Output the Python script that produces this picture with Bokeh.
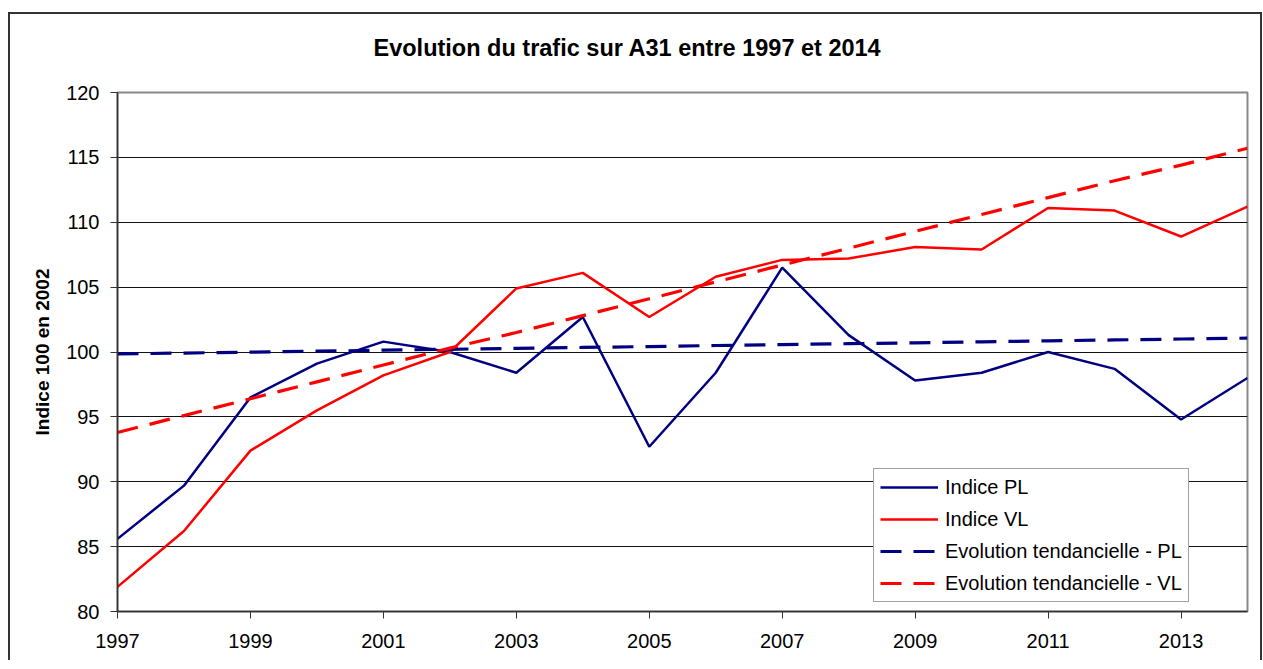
from bokeh.plotting import figure
from bokeh.models import FixedTicker, Legend, LegendItem, ColumnDataSource
from bokeh.embed import file_html
from bokeh.resources import INLINE

years = list(range(1997, 2015))
indice_pl = [85.6, 89.7, 96.5, 99.1, 100.8, 100.0, 98.4, 102.7, 92.7, 98.4,
             106.5, 101.3, 97.8, 98.4, 100.0, 98.7, 94.8, 98.0]
indice_vl = [81.9, 86.2, 92.4, 95.5, 98.2, 100.0, 104.9, 106.1, 102.7, 105.8,
             107.1, 107.2, 108.1, 107.9, 111.1, 110.9, 108.9, 111.2]
tend_pl = [99.85, 99.92, 99.99, 100.06, 100.14, 100.21, 100.28, 100.35, 100.42,
           100.50, 100.57, 100.64, 100.71, 100.78, 100.86, 100.93, 101.00, 101.07]
tend_vl = [93.8, 95.1, 96.4, 97.7, 99.0, 100.3, 101.5, 102.8, 104.1, 105.4,
           106.7, 108.0, 109.3, 110.6, 111.9, 113.2, 114.4, 115.7]
x_ticks = [1997, 1999, 2001, 2003, 2005, 2007, 2009, 2011, 2013]
y_ticks = [80, 85, 90, 95, 100, 105, 110, 115, 120]

title_text = "Evolution du trafic sur A31 entre 1997 et 2014"
y_label = "Indice 100 en 2002"
names = ["Indice PL", "Indice VL", "Evolution tendancielle - PL", "Evolution tendancielle - VL"]

FONT = "Liberation Sans"
NAVY = "#000080"
RED = "#FF0000"

src = ColumnDataSource(dict(x=years, pl=indice_pl, vl=indice_vl, tpl=tend_pl, tvl=tend_vl))

p = figure(width=1254, height=660, x_range=(1997, 2014), y_range=(80, 120),
           output_backend="svg", toolbar_location=None,
           min_border_left=109, min_border_right=15, min_border_top=92, min_border_bottom=49)
# outer chart frame (top, left, right) drawn behind a transparent border area
p.styles = {
    "margin-left": "8px",
    "background": ("linear-gradient(#333,#333) 0px 12px / 100% 2px no-repeat, "
                   "linear-gradient(#333,#333) 0px 12px / 2px 100% no-repeat, "
                   "linear-gradient(#333,#333) 100% 12px / 2px 100% no-repeat"),
}
p.border_fill_alpha = 0
p.background_fill_color = "white"

p.title.text = title_text
p.title.text_font = FONT
p.title.text_font_style = "bold"
p.title.text_font_size = "23.5px"
p.title.text_color = "black"
p.title.align = "left"
p.title.offset = 256
p.title.vertical_align = "top"
p.title.standoff = 60

p.outline_line_color = "#888888"
p.outline_line_width = 2
p.xgrid.visible = False
p.ygrid.grid_line_color = "#111111"
p.ygrid.grid_line_width = 1
p.ygrid.ticker = FixedTicker(ticks=y_ticks)

p.xaxis.ticker = FixedTicker(ticks=x_ticks)
p.yaxis.ticker = FixedTicker(ticks=y_ticks)
for ax in (p.xaxis[0], p.yaxis[0]):
    ax.major_label_text_font = FONT
    ax.major_label_text_font_size = "20px"
    ax.major_label_text_color = "black"
    ax.minor_tick_line_color = None
    ax.major_tick_in = 0
    ax.major_tick_out = 7
    ax.major_tick_line_color = "#333333"
    ax.axis_line_color = "#333333"
    ax.axis_line_width = 1.5
p.yaxis.major_label_standoff = 11
p.xaxis.major_label_standoff = 15
p.yaxis.axis_label = y_label
p.yaxis.axis_label_text_font = FONT
p.yaxis.axis_label_text_font_style = "bold"
p.yaxis.axis_label_text_font_size = "19px"
p.yaxis.axis_label_text_color = "black"
p.yaxis.axis_label_standoff = 10

r_pl = p.line("x", "pl", source=src, line_color=NAVY, line_width=2.5)
r_vl = p.line("x", "vl", source=src, line_color=RED, line_width=2.5)
r_tpl = p.line("x", "tpl", source=src, line_color=NAVY, line_width=3.2, line_dash="21 12")
r_tvl = p.line("x", "tvl", source=src, line_color=RED, line_width=3.2, line_dash="21 12")

legend = Legend(items=[LegendItem(label=n, renderers=[r]) for n, r in zip(names, [r_pl, r_vl, r_tpl, r_tvl])],
                location=(756, 9))
legend.label_text_font = FONT
legend.label_text_font_size = "20px"
legend.label_text_color = "black"
legend.label_height = 24
legend.glyph_height = 24
legend.glyph_width = 58
legend.label_standoff = 7
legend.spacing = 8
legend.padding = 6
legend.margin = 0
legend.border_line_color = "#444444"
legend.border_line_width = 1.5
legend.background_fill_color = "white"
legend.background_fill_alpha = 1
p.add_layout(legend)

open("out.html", "w").write(file_html(p, INLINE))
